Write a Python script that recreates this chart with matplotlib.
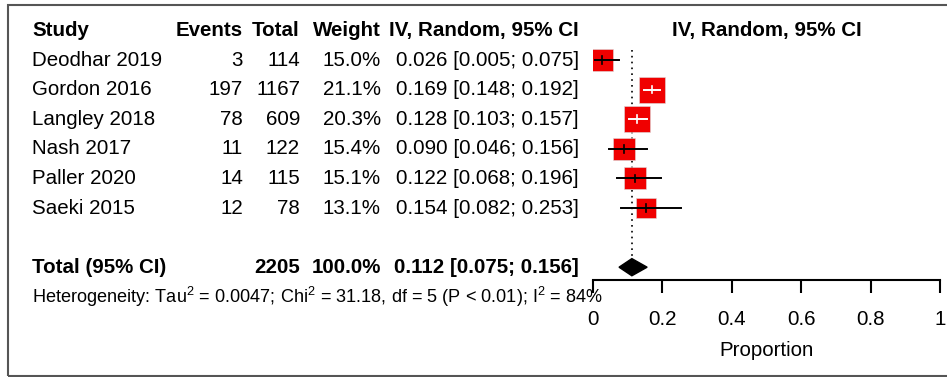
import numpy as np
import matplotlib.pyplot as plt
from matplotlib.patches import Rectangle
from matplotlib.transforms import blended_transform_factory

plt.rcParams['font.family'] = ['Liberation Sans', 'DejaVu Sans']
plt.rcParams['mathtext.fontset'] = 'custom'
plt.rcParams['mathtext.rm'] = 'Liberation Sans'

# data
studies = ['Deodhar 2019', 'Gordon 2016', 'Langley 2018', 'Nash 2017', 'Paller 2020', 'Saeki 2015']
events = [3, 197, 78, 11, 14, 12]
totals = [114, 1167, 609, 122, 115, 78]
weights = [15.0, 21.1, 20.3, 15.4, 15.1, 13.1]
est = [0.026, 0.169, 0.128, 0.090, 0.122, 0.154]
ci_lo = [0.005, 0.148, 0.103, 0.046, 0.068, 0.082]
ci_hi = [0.075, 0.192, 0.157, 0.156, 0.196, 0.253]
pooled_est, pooled_lo, pooled_hi = 0.112, 0.075, 0.156
pooled_total = 2205
xticks = [0, 0.2, 0.4, 0.6, 0.8, 1]
xticklabels = ['0', '0.2', '0.4', '0.6', '0.8', '1']

W, H = 947, 377
fig = plt.figure(figsize=(W / 100, H / 100), dpi=100)
fs = 14.8

# forest axis: x from pixel 593 to 940, rows 29.6 px apart
row_px = 29.6
top_px, bot_px = 15.6, 280
ax = fig.add_axes([593 / W, 1 - bot_px / H, (940 - 593) / W, (bot_px - top_px) / H])
ax.set_xlim(0, 1)
ax.set_ylim(-0.5 + (bot_px - top_px) / row_px, -0.5)
ax.patch.set_alpha(0)
for s in ['top', 'right', 'left']:
    ax.spines[s].set_visible(False)
ax.spines['bottom'].set_linewidth(1.5)
ax.set_yticks([])
ax.set_xticks(xticks)
ax.set_xticklabels(xticklabels, fontsize=fs)
ax.tick_params(axis='x', direction='out', length=9.5, width=1.5, pad=12)
ax.set_xlabel('Proportion', fontsize=fs, labelpad=9)

rows = np.arange(1, len(studies) + 1)
total_row = 8

# pooled estimate reference line
ax.plot([pooled_est, pooled_est], [0.65, 7.65], ls=(0, (1, 2.5)), color='black', lw=1.2)

for i, y in enumerate(rows):
    side_px = 5.7 * np.sqrt(weights[i])
    half_x = side_px / 2 / 347
    inside = ci_lo[i] >= est[i] - half_x and ci_hi[i] <= est[i] + half_x
    ax.scatter(est[i], y, marker='s', s=(side_px * 0.72) ** 2, color='#f00000',
               edgecolor='#dddddd', linewidth=0.4, zorder=3)
    c = 'white' if inside else 'black'
    ax.plot([ci_lo[i], ci_hi[i]], [y, y], color=c, lw=1.4, zorder=4)
    ax.plot([est[i], est[i]], [y - 0.13, y + 0.13], color=c, lw=1.2, zorder=4)

dh = 0.29
ax.fill([pooled_lo, pooled_est, pooled_hi, pooled_est],
        [total_row, total_row - dh, total_row, total_row + dh], color='black', zorder=3)
ax.text(0.5, 0, 'IV, Random, 95% CI', fontsize=fs, fontweight='bold', ha='center', va='center')

# table on the left, x in figure pixels, y in row units
tr = blended_transform_factory(fig.transFigure, ax.transData)

def put(xpx, y, s, ha='right', bold=False, size=fs):
    ax.text(xpx / W, y, s, transform=tr, ha=ha, va='center', fontsize=size,
            fontweight='bold' if bold else 'normal', clip_on=False)

put(32, 0, 'Study', ha='left', bold=True)
put(243, 0, 'Events', bold=True)
put(300, 0, 'Total', bold=True)
put(381, 0, 'Weight', bold=True)
put(579, 0, 'IV, Random, 95% CI', bold=True)

for i, y in enumerate(rows):
    put(32, y, studies[i], ha='left')
    put(243, y, str(events[i]))
    put(300, y, str(totals[i]))
    put(381, y, f'{weights[i]:.1f}%')
    put(579, y, f'{est[i]:.3f} [{ci_lo[i]:.3f}; {ci_hi[i]:.3f}]')

put(32, total_row, 'Total (95% CI)', ha='left', bold=True)
put(300, total_row, str(pooled_total), bold=True)
put(381, total_row, f'{sum(weights):.1f}%', bold=True)
put(579, total_row, f'{pooled_est:.3f} [{pooled_lo:.3f}; {pooled_hi:.3f}]', bold=True)
put(32, 9, 'Heterogeneity: Tau$^2$ = 0.0047; Chi$^2$ = 31.18, df = 5 (P < 0.01); I$^2$ = 84%',
    ha='left', size=13.1)

# border around the figure
fig.patches.append(Rectangle((8 / W, 1 / H), 1.2, 1 - 6 / H, transform=fig.transFigure,
                             fill=False, edgecolor='#555555', lw=1.5))

fig.savefig('out.png', dpi=100)
